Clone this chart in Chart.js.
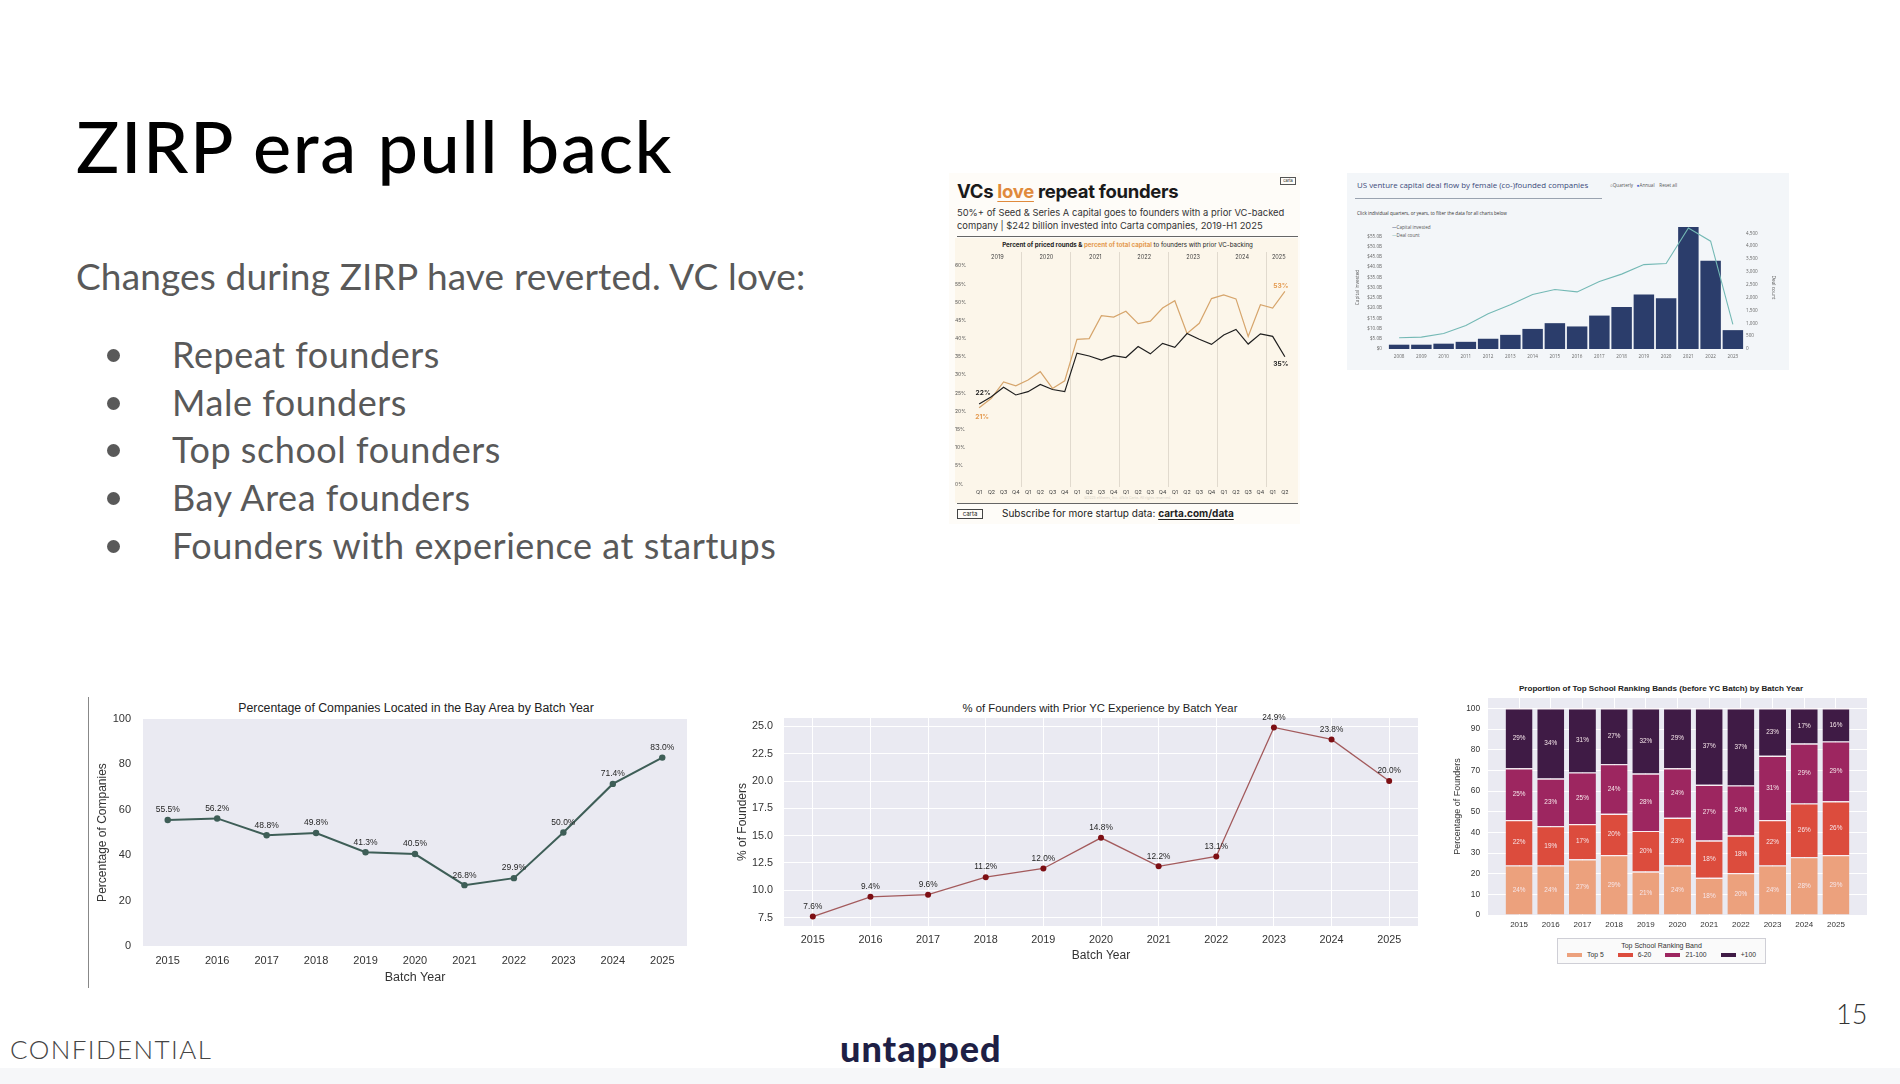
<!DOCTYPE html>
<html>
<head>
<meta charset="utf-8">
<title>ZIRP era pull back</title>
<script src="https://cdn.jsdelivr.net/npm/chart.js"></script>
<style>
  html, body { margin: 0; padding: 0; }
  body { width: 1900px; height: 1084px; position: relative; overflow: hidden; background: #fff; font-family: 'Lato', sans-serif; }
  .abs { position: absolute; white-space: nowrap; }
  canvas { position: absolute; }
  .slide-title { left: 76px; top: 109px; font-size: 72px; line-height: 72px; font-weight: 500; color: #000; letter-spacing: 1.6px; }
  .lead { left: 76px; top: 257px; font-size: 37px; line-height: 37px; color: #595959; letter-spacing: 0.15px; }
  .bullet { left: 172px; font-size: 36px; line-height: 36px; color: #595959; letter-spacing: 0.55px; }
  .dot { width: 13px; height: 13px; border-radius: 50%; background: #595959; left: 107px; }
  .ctitle { font-family: 'Liberation Sans', Arial, sans-serif; color: #222; transform: translate(-50%, -50%); }
  .carta { font-family: 'Inter', sans-serif; color: #1a1a1a; }
  .deal { font-family: 'Open Sans', sans-serif; color: #333; }
</style>
</head>
<body>

<!-- slide text -->
<div class="abs slide-title">ZIRP era pull back</div>
<div class="abs lead">Changes during ZIRP have reverted. VC love:</div>
<div class="abs dot" style="top:349px"></div><div class="abs bullet" style="top:336px">Repeat founders</div>
<div class="abs dot" style="top:397px"></div><div class="abs bullet" style="top:384px">Male founders</div>
<div class="abs dot" style="top:444px"></div><div class="abs bullet" style="top:431px">Top school founders</div>
<div class="abs dot" style="top:492px"></div><div class="abs bullet" style="top:479px">Bay Area founders</div>
<div class="abs dot" style="top:540px"></div><div class="abs bullet" style="top:527px">Founders with experience at startups</div>

<!-- carta panel -->
<div class="abs" style="left:949px;top:173px;width:351px;height:351px;background:#fefcf8;"></div>
<div class="abs" style="left:955px;top:238px;width:343px;height:265px;background:#fcf6ea;"></div>
<div class="abs carta" style="left:1280px;top:177px;width:14px;height:6px;border:0.6px solid #555;font-size:4px;line-height:6px;text-align:center;">carta</div>
<div class="abs carta" style="left:957px;top:182px;font-size:18.5px;line-height:18.5px;font-weight:700;letter-spacing:-0.3px;">VCs <span style="color:#e08a3c;text-decoration:underline;text-decoration-thickness:1px;text-underline-offset:3px;">love</span> repeat founders</div>
<div class="abs carta" style="left:957px;top:206px;font-size:9.4px;line-height:13px;color:#333;">50%+ of Seed &amp; Series A capital goes to founders with a prior VC-backed<br>company | $242 billion invested into Carta companies, 2019-H1 2025</div>
<div class="abs" style="left:957px;top:236px;width:341px;height:1px;background:#666;"></div>
<div class="abs carta" style="left:957px;top:241px;width:341px;text-align:center;font-size:6.2px;line-height:7px;font-weight:700;color:#222;">Percent of priced rounds &amp; <span style="color:#e49a4f;">percent of total capital</span> <span style="font-weight:400;">to founders with prior VC-backing</span></div>
<div class="abs carta" style="left:957px;top:496px;width:341px;text-align:center;font-size:3.5px;line-height:4px;color:#d9d3c8;">©2025 eShares, Inc. d/b/a Carta. All rights reserved.</div>
<div class="abs" style="left:957px;top:503px;width:341px;height:1px;background:#666;"></div>
<div class="abs carta" style="left:957px;top:509px;width:24px;height:8px;border:0.8px solid #444;font-size:6px;line-height:8px;text-align:center;">carta</div>
<div class="abs carta" style="left:1002px;top:507px;font-size:10px;line-height:12px;color:#222;">Subscribe for more startup data: <b style="text-decoration:underline;text-underline-offset:2px;">carta.com/data</b></div>
<canvas id="cartaChart" width="345" height="256" style="left:955px;top:244px;"></canvas>

<!-- deal flow panel -->
<div class="abs" style="left:1347px;top:173px;width:442px;height:197px;background:#f3f6f9;"></div>
<div class="abs deal" style="left:1357px;top:180px;font-size:7.9px;line-height:10px;color:#3b4a7a;">US venture capital deal flow by female (co-)founded companies</div>
<div class="abs deal" style="left:1610px;top:181px;font-size:4.6px;line-height:8px;color:#555;">&#9675;Quarterly &nbsp;&nbsp;<span style="color:#3b5bd0;">&#9679;</span>Annual &nbsp;&nbsp;&nbsp;Reset all</div>
<div class="abs" style="left:1355px;top:198px;width:247px;height:1px;background:#9aa3b0;"></div>
<div class="abs deal" style="left:1357px;top:210px;font-size:4.6px;line-height:6px;color:#333;">Click individual quarters, or years, to filter the data for all charts below</div>
<div class="abs deal" style="left:1392px;top:224px;font-size:4.6px;line-height:6px;color:#555;"><span style="color:#2b3d6b;">&#8212;</span>Capital invested</div>
<div class="abs deal" style="left:1392px;top:232px;font-size:4.6px;line-height:6px;color:#555;"><span style="color:#74b9b5;">&#8212;</span>Deal count</div>
<canvas id="dealChart" width="433" height="142" style="left:1355px;top:220px;"></canvas>

<!-- bottom charts -->
<div class="abs" style="left:88px;top:697px;width:1px;height:291px;background:#888;"></div>
<div class="abs ctitle" style="left:416px;top:708px;font-size:12.3px;">Percentage of Companies Located in the Bay Area by Batch Year</div>
<canvas id="bayChart" width="608" height="290" style="left:92px;top:700px;"></canvas>

<div class="abs ctitle" style="left:1100px;top:708px;font-size:11.3px;">% of Founders with Prior YC Experience by Batch Year</div>
<canvas id="ycChart" width="698" height="275" style="left:732px;top:700px;"></canvas>

<div class="abs ctitle" style="left:1661px;top:688px;font-size:8.1px;font-weight:700;">Proportion of Top School Ranking Bands (before YC Batch) by Batch Year</div>
<canvas id="schoolChart" width="428" height="245" style="left:1452px;top:690px;"></canvas>
<div class="abs" id="schoolLegend" style="left:1557px;top:938px;width:207px;height:24px;border:1px solid #cfcfd6;background:#fafafa;font-family:'Liberation Sans',Arial,sans-serif;color:#333;"></div>

<!-- footer -->
<div class="abs" style="left:0;top:1068px;width:1900px;height:16px;background:#f6f7f9;"></div>
<div class="abs" style="left:10px;top:1035px;font-size:26px;line-height:28px;font-weight:300;color:#444;letter-spacing:1.4px;">CONFIDENTIAL</div>
<div class="abs" style="left:840px;top:1029px;font-size:36px;line-height:38px;font-weight:900;color:#1e1f45;letter-spacing:1px;">untapped</div>
<div class="abs" style="left:1836px;top:999px;font-size:27px;line-height:30px;font-weight:300;color:#333;">15</div>

<script>
// ---- data ----
const batchYears = ['2015', '2016', '2017', '2018', '2019', '2020', '2021', '2022', '2023', '2024', '2025'];

const bayAreaPct = [55.5, 56.2, 48.8, 49.8, 41.3, 40.5, 26.8, 29.9, 50.0, 71.4, 83.0];
const bayTicks = [0, 20, 40, 60, 80, 100];

const priorYcPct = [7.6, 9.4, 9.6, 11.2, 12.0, 14.8, 12.2, 13.1, 24.9, 23.8, 20.0];
const ycTicks = [7.5, 10, 12.5, 15, 17.5, 20, 22.5, 25];

const bandNames = ['Top 5', '6-20', '21-100', '+100'];
const top5Pct = [24, 24, 27, 29, 21, 24, 18, 20.3, 24, 28, 29];
const band6to20Pct = [22, 19, 17, 20, 19.7, 23, 18, 18.2, 22, 26, 26];
const band21to100Pct = [25, 23, 25, 24, 27.8, 24, 27, 24.2, 31, 29, 29];
const bandOver100Pct = [29, 34, 31, 27, 31.5, 29, 37, 37.3, 23, 17, 16];
const schoolTicks = [0, 10, 20, 30, 40, 50, 60, 70, 80, 90, 100];

const cartaYears = ['2019', '2020', '2021', '2022', '2023', '2024', '2025'];
const cartaQuarters = ['Q1', 'Q2', 'Q3', 'Q4', 'Q1', 'Q2', 'Q3', 'Q4', 'Q1', 'Q2', 'Q3', 'Q4',
  'Q1', 'Q2', 'Q3', 'Q4', 'Q1', 'Q2', 'Q3', 'Q4', 'Q1', 'Q2', 'Q3', 'Q4', 'Q1', 'Q2'];
const pricedRoundsPct = [22, 24.0, 26.6, 24.5, 25.4, 27.4, 26.0, 25.4, 36.0, 35.2, 34.1, 35.3,
  34.8, 37.8, 35.8, 38.7, 37.6, 41.4, 39.8, 38.4, 41.0, 42.5, 38.5, 41.3, 40.6, 35];
const totalCapitalPct = [21, 23.6, 28.1, 27.0, 28.6, 30.9, 26.3, 28.4, 39.8, 40.0, 46.3, 45.9,
  47.5, 44.1, 44.8, 48.4, 50.4, 41.4, 44.2, 51.0, 52.0, 50.9, 40.6, 49.3, 48.4, 53];
const cartaTicks = [0, 5, 10, 15, 20, 25, 30, 35, 40, 45, 50, 55, 60];

const dealYears = ['2008', '2009', '2010', '2011', '2012', '2013', '2014', '2015',
  '2016', '2017', '2018', '2019', '2020', '2021', '2022', '2023'];
const capitalInvestedB = [2.1, 2.1, 2.6, 3.5, 5.0, 6.9, 9.8, 12.6, 11.0, 16.3, 20.5, 26.6, 24.7, 59.5, 43.0, 9.2];
const dealCount = [440, 460, 600, 910, 1370, 1720, 2120, 2310, 2220, 2620, 2910, 3280, 3320, 4700, 4190, 960];
const capitalTicks = [0, 5, 10, 15, 20, 25, 30, 35, 40, 45, 50, 55];
const dealTicks = [0, 500, 1000, 1500, 2000, 2500, 3000, 3500, 4000, 4500];

// ---- helpers and small plugins ----
Chart.defaults.font.family = "'Liberation Sans', Arial, sans-serif";
Chart.defaults.color = '#333';
Chart.defaults.animation = false;

// pin axis boxes so the plot areas land where the original ones are
function axisWidth(w) {
  return function (scale) { scale.width = w; scale.paddingTop = 0; scale.paddingBottom = 0; };
}
function axisHeight(h) {
  return function (scale) { scale.height = h; scale.paddingLeft = 0; scale.paddingRight = 0; };
}
function setTicks(list) { return function (scale) { scale.ticks = list.map(v => ({ value: v })); }; }

const plotBg = {
  id: 'plotBg',
  beforeDraw(chart, args, opts) {
    if (!opts.color) return;
    const a = chart.chartArea;
    chart.ctx.save();
    chart.ctx.fillStyle = opts.color;
    chart.ctx.fillRect(a.left, a.top, a.width, a.height);
    chart.ctx.restore();
  }
};

// value labels above points or in the middle of bar segments
const valueLabels = {
  id: 'valueLabels',
  afterDatasetsDraw(chart, args, opts) {
    if (!opts.display) return;
    const ctx = chart.ctx;
    ctx.save();
    ctx.font = opts.font;
    ctx.fillStyle = opts.color;
    ctx.textAlign = 'center';
    ctx.textBaseline = 'middle';
    chart.data.datasets.forEach((ds, di) => {
      if (ds.type === 'line' && opts.mode === 'bar') return;
      chart.getDatasetMeta(di).data.forEach((el, i) => {
        const raw = ds.data[i];
        const v = typeof raw === 'object' ? raw.y : raw;
        const y = opts.mode === 'bar' ? (el.y + el.base) / 2 : el.y - opts.offset;
        ctx.fillText(v.toFixed(opts.decimals) + '%', el.x, y);
      });
    });
    ctx.restore();
  }
};

// first / last value callouts and year headings on the carta chart
const cartaDecor = {
  id: 'cartaDecor',
  afterDatasetsDraw(chart, args, opts) {
    if (!opts.items) return;
    const ctx = chart.ctx;
    const x = chart.scales.x;
    ctx.save();
    ctx.textAlign = 'center';
    ctx.textBaseline = 'middle';
    ctx.font = "700 6.6px 'Inter', sans-serif";
    opts.items.forEach(it => {
      const ds = chart.data.datasets[it.dataset];
      const el = chart.getDatasetMeta(it.dataset).data[it.index];
      ctx.fillStyle = it.color;
      ctx.fillText(Math.round(ds.data[it.index]) + '%', el.x + it.dx, el.y + it.dy);
    });
    ctx.font = "5.6px 'Inter', sans-serif";
    ctx.fillStyle = '#444';
    let start = 0;
    cartaYears.forEach(yr => {
      let n = 1;
      while (start + n < cartaQuarters.length && cartaQuarters[start + n] !== 'Q1') n++;
      ctx.fillText(yr, x.getPixelForValue(start + (n - 1) / 2), chart.chartArea.top + 5);
      start += n;
    });
    ctx.restore();
  }
};

Chart.register(plotBg, valueLabels, cartaDecor);

const noGrid = { display: false, drawTicks: false };

// ---- Bay Area line chart ----
new Chart(document.getElementById('bayChart'), {
  type: 'line',
  data: {
    labels: batchYears,
    datasets: [{
      data: bayAreaPct,
      borderColor: '#3e5e57',
      borderWidth: 2,
      pointRadius: 3.2,
      pointBackgroundColor: '#3e5e57',
      pointBorderWidth: 0
    }]
  },
  options: {
    responsive: false,
    layout: { padding: { top: 19, right: 13, left: 0, bottom: 0 } },
    plugins: {
      legend: { display: false },
      tooltip: { enabled: false },
      plotBg: { color: '#eaeaf2' },
      valueLabels: { display: true, decimals: 1, offset: 10, font: "8.5px 'Liberation Sans'", color: '#262626' }
    },
    scales: {
      x: {
        offset: true,
        grid: noGrid,
        border: { display: false },
        ticks: { font: { size: 11 }, padding: 8, autoSkip: false, maxRotation: 0 },
        title: { display: true, text: 'Batch Year', font: { size: 12.5 }, padding: { top: 0, bottom: 5 } },
        afterFit: axisHeight(44)
      },
      y: {
        min: 0, max: 100,
        afterBuildTicks: setTicks(bayTicks),
        grid: noGrid,
        border: { display: false },
        ticks: { font: { size: 11 }, padding: 12 },
        title: { display: true, text: 'Percentage of Companies', font: { size: 12 }, padding: { top: 3, bottom: 0 } },
        afterFit: axisWidth(51)
      }
    }
  }
});

// ---- prior YC experience line chart ----
new Chart(document.getElementById('ycChart'), {
  type: 'line',
  data: {
    labels: batchYears,
    datasets: [{
      data: priorYcPct,
      borderColor: '#a35a5c',
      borderWidth: 1.3,
      pointRadius: 3,
      pointBackgroundColor: '#7d0f14',
      pointBorderWidth: 0
    }]
  },
  options: {
    responsive: false,
    layout: { padding: { top: 18, right: 12, left: 0, bottom: 0 } },
    plugins: {
      legend: { display: false },
      tooltip: { enabled: false },
      plotBg: { color: '#eaeaf2' },
      valueLabels: { display: true, decimals: 1, offset: 10, font: "8.3px 'Liberation Sans'", color: '#262626' }
    },
    scales: {
      x: {
        offset: true,
        grid: { color: '#ffffff', lineWidth: 1, drawTicks: false },
        border: { display: false },
        ticks: { font: { size: 10.8 }, padding: 7.5, autoSkip: false, maxRotation: 0 },
        title: { display: true, text: 'Batch Year', font: { size: 12 }, padding: { top: 0, bottom: 12.5 } },
        afterFit: axisHeight(49)
      },
      y: {
        min: 6.735, max: 25.765,
        afterBuildTicks: setTicks(ycTicks),
        grid: { color: '#ffffff', lineWidth: 1, drawTicks: false },
        border: { display: false },
        ticks: { font: { size: 10.8 }, padding: 11, callback: v => v.toFixed(1) },
        title: { display: true, text: '% of Founders', font: { size: 12 }, padding: { top: 3, bottom: 0 } },
        afterFit: axisWidth(52)
      }
    }
  }
});

// ---- top school ranking bands, stacked bars ----
const bandColors = ['#eca17d', '#dc4c3d', '#9d2660', '#3f1b45'];
const bandValues = [top5Pct, band6to20Pct, band21to100Pct, bandOver100Pct];
new Chart(document.getElementById('schoolChart'), {
  type: 'bar',
  data: {
    datasets: bandNames.map((name, k) => ({
      label: name,
      data: bandValues[k].map((v, i) => ({ x: i, y: v })),
      backgroundColor: bandColors[k],
      borderColor: '#fbeef2',
      borderWidth: { top: 1.2, left: 0, right: 0, bottom: 0 },
      borderSkipped: false,
      categoryPercentage: 1,
      barPercentage: 0.85
    }))
  },
  options: {
    responsive: false,
    layout: { padding: { top: 8, right: 13, left: 0, bottom: 0 } },
    plugins: {
      legend: { display: false },
      tooltip: { enabled: false },
      plotBg: { color: '#eaeaf2' },
      valueLabels: { display: true, mode: 'bar', decimals: 0, font: "6.4px 'Liberation Sans'", color: '#f6e6ea' }
    },
    scales: {
      x: {
        type: 'linear', stacked: true, offset: false,
        min: -0.98, max: 10.98,
        afterBuildTicks: setTicks(batchYears.map((y, i) => i)),
        grid: { color: '#ffffff', lineWidth: 1, drawTicks: false, offset: false },
        border: { display: false },
        ticks: { font: { size: 8 }, padding: 5, callback: v => batchYears[v] },
        afterFit: axisHeight(20)
      },
      y: {
        stacked: true,
        min: 0, max: 105,
        afterBuildTicks: setTicks(schoolTicks),
        grid: { color: '#ffffff', lineWidth: 1, drawTicks: false },
        border: { display: false },
        ticks: { font: { size: 8.3 }, padding: 8 },
        title: { display: true, text: 'Percentage of Founders', font: { size: 9 }, padding: { top: 0, bottom: 0 } },
        afterFit: axisWidth(36)
      }
    }
  }
});

// legend box for the stacked chart
(function () {
  const box = document.getElementById('schoolLegend');
  let html = '<div style="text-align:center;font-size:7px;line-height:9px;margin-top:2px;">Top School Ranking Band</div>' +
    '<div style="display:flex;justify-content:space-around;align-items:center;font-size:6.8px;line-height:9px;padding:0 2px;">';
  bandNames.forEach((name, k) => {
    html += '<span><span style="display:inline-block;width:15px;height:4px;background:' + bandColors[k] +
      ';vertical-align:middle;margin-right:5px;"></span>' + name + '</span>';
  });
  box.innerHTML = html + '</div>';
})();

// ---- carta repeat founders chart ----
new Chart(document.getElementById('cartaChart'), {
  type: 'line',
  data: {
    labels: cartaQuarters,
    datasets: [
      { label: 'Percent of priced rounds', data: pricedRoundsPct, borderColor: '#1f1f1f', borderWidth: 1.2, pointRadius: 0, tension: 0 },
      { label: 'Percent of total capital', data: totalCapitalPct, borderColor: '#d6a56c', borderWidth: 1.2, pointRadius: 0, tension: 0 }
    ]
  },
  options: {
    responsive: false,
    layout: { padding: { top: 8, right: 9, left: 0, bottom: 0 } },
    plugins: {
      legend: { display: false },
      tooltip: { enabled: false },
      cartaDecor: {
        items: [
          { dataset: 0, index: 0, dx: 4, dy: -11, color: '#1f1f1f' },
          { dataset: 1, index: 0, dx: 3, dy: 9, color: '#e49a4f' },
          { dataset: 1, index: 25, dx: -4, dy: -5, color: '#e49a4f' },
          { dataset: 0, index: 25, dx: -4, dy: 7, color: '#1f1f1f' }
        ]
      }
    },
    scales: {
      x: {
        offset: true,
        grid: {
          offset: true, drawTicks: false, lineWidth: 0.8,
          color: c => (c.index > 0 && cartaQuarters[c.index] === 'Q1') ? '#d9d3c7' : 'rgba(0,0,0,0)'
        },
        border: { display: false },
        ticks: { font: { size: 5.4, family: "'Inter', sans-serif" }, color: '#444', padding: 2, autoSkip: false, maxRotation: 0 },
        afterFit: axisHeight(13)
      },
      y: {
        min: -0.8, max: 63.8,
        afterBuildTicks: setTicks(cartaTicks),
        grid: { display: false, drawTicks: false },
        border: { display: false },
        ticks: { font: { size: 5, family: "'Inter', sans-serif" }, color: '#555', padding: 0, crossAlign: 'far', callback: v => v + '%' },
        afterFit: axisWidth(18)
      }
    }
  }
});

// ---- female (co-)founded deal flow chart ----
new Chart(document.getElementById('dealChart'), {
  type: 'bar',
  data: {
    labels: dealYears,
    datasets: [
      { type: 'line', label: 'Deal count', data: dealCount, yAxisID: 'y1', borderColor: '#74b9b5', borderWidth: 1.1, pointRadius: 0, tension: 0 },
      { type: 'bar', label: 'Capital invested', data: capitalInvestedB, yAxisID: 'y', backgroundColor: '#2b3d6b', categoryPercentage: 1, barPercentage: 0.92 }
    ]
  },
  options: {
    responsive: false,
    layout: { padding: { top: 6, right: 0, left: 0, bottom: 0 } },
    plugins: { legend: { display: false }, tooltip: { enabled: false } },
    scales: {
      x: {
        grid: { display: false, drawTicks: false },
        border: { display: false },
        ticks: { font: { size: 4.6, family: "'Open Sans', sans-serif" }, color: '#666', padding: 5, autoSkip: false, maxRotation: 0 },
        afterFit: axisHeight(13)
      },
      y: {
        position: 'left', min: 0, max: 60,
        afterBuildTicks: setTicks(capitalTicks),
        grid: { display: false, drawTicks: false },
        border: { display: false },
        ticks: { font: { size: 4.6, family: "'Open Sans', sans-serif" }, color: '#666', padding: 6, callback: v => v === 0 ? '$0' : '$' + v.toFixed(1) + 'B' },
        title: { display: true, text: 'Capital invested', font: { size: 4.8, family: "'Open Sans', sans-serif" }, color: '#555', padding: { top: 0, bottom: 0 } },
        afterFit: axisWidth(33)
      },
      y1: {
        position: 'right', min: 0, max: 4780,
        afterBuildTicks: setTicks(dealTicks),
        grid: { display: false, drawTicks: false },
        border: { display: false },
        ticks: { font: { size: 4.6, family: "'Open Sans', sans-serif" }, color: '#666', padding: 2, callback: v => v.toLocaleString('en-US') },
        title: { display: true, text: 'Deal count', font: { size: 4.8, family: "'Open Sans', sans-serif" }, color: '#555', padding: { top: 12, bottom: 0 } },
        afterFit: axisWidth(44)
      }
    }
  }
});
</script>
</body>
</html>
